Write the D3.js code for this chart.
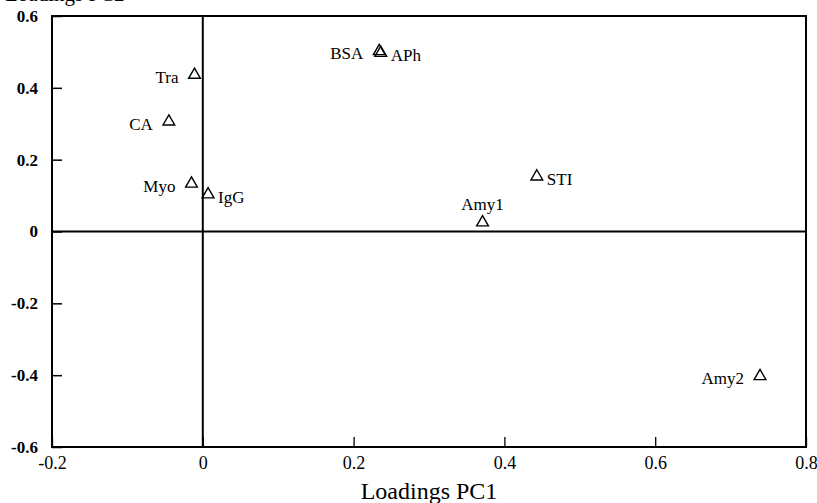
<!DOCTYPE html>
<html>
<head>
<meta charset="utf-8">
<script src="https://cdn.jsdelivr.net/npm/d3@7"></script>
<style>
  body { margin: 0; background: #fff; }
  svg { display: block; font-family: "Liberation Serif", "Times New Roman", serif; }
</style>
</head>
<body>
<div id="chart"></div>
<script>
// loadings
var names = ["Tra", "CA", "Myo", "IgG", "BSA", "APh", "STI", "Amy1", "Amy2"]
var pc1 = [-0.011, -0.045, -0.015, 0.007, 0.234, 0.236, 0.443, 0.371, 0.739]
var pc2 = [0.436, 0.306, 0.133, 0.103, 0.502, 0.497, 0.153, 0.025, -0.403]
var side = ["left", "left", "left", "right", "left", "right", "right", "above", "left"]

var xTicks = [-0.2, 0, 0.2, 0.4, 0.6, 0.8]
var yTicks = [-0.6, -0.4, -0.2, 0, 0.2, 0.4, 0.6]

var margin = {top: 16, right: 11, bottom: 56, left: 52},
    width = 817 - margin.left - margin.right,
    height = 503 - margin.top - margin.bottom

var svg = d3.select("#chart").append("svg")
    .attr("width", 817)
    .attr("height", 503)

var g = svg.append("g")
    .attr("transform", `translate(${margin.left}, ${margin.top})`)

var x = d3.scaleLinear().domain([-0.2, 0.8]).range([0, width])
var y = d3.scaleLinear().domain([-0.6, 0.6]).range([height, 0])

// plain hyphen for negatives, like the original
function fmt(d) { return d === 0 ? "0" : d3.format(".1f")(d).replace("\u2212", "-") }

// x axis, ticks pointing inward
var xAxis = g.append("g")
    .attr("transform", `translate(0, ${height})`)
    .call(d3.axisBottom(x).tickValues(xTicks).tickFormat(fmt).tickSizeInner(-10).tickSizeOuter(0).tickPadding(9))
xAxis.select(".domain").remove()
xAxis.selectAll("line").attr("stroke-width", 1.3)
xAxis.selectAll("text").attr("font-size", 18).attr("font-family", "Liberation Serif").attr("fill", "#000")

var yAxis = g.append("g")
    .call(d3.axisLeft(y).tickValues(yTicks).tickFormat(fmt).tickSizeInner(-10).tickSizeOuter(0).tickPadding(14))
yAxis.select(".domain").remove()
yAxis.selectAll("line").attr("stroke-width", 1.5)
yAxis.selectAll("text").attr("font-size", 17).attr("font-weight", "bold")
    .attr("font-family", "Liberation Serif").attr("fill", "#000")

// frame
g.append("rect")
    .attr("width", width).attr("height", height)
    .attr("fill", "none").attr("stroke", "#000").attr("stroke-width", 2)

// zero lines
g.append("line")
    .attr("x1", x(0)).attr("x2", x(0)).attr("y1", 0).attr("y2", height)
    .attr("stroke", "#000").attr("stroke-width", 2)
g.append("line")
    .attr("x1", 0).attr("x2", width).attr("y1", y(0)).attr("y2", y(0))
    .attr("stroke", "#000").attr("stroke-width", 2)

var tri = d3.symbol().type(d3.symbolTriangle).size(60)

var pts = names.map((n, i) => ({name: n, x: pc1[i], y: pc2[i], side: side[i]}))

g.selectAll(".pt")
    .data(pts)
    .enter()
    .append("path")
    .attr("class", "pt")
    .attr("d", tri)
    .attr("transform", d => `translate(${x(d.x)}, ${y(d.y)})`)
    .attr("fill", "none")
    .attr("stroke", "#000")
    .attr("stroke-width", 1.4)

g.selectAll(".lbl")
    .data(pts)
    .enter()
    .append("text")
    .attr("class", "lbl")
    .attr("x", d => x(d.x) + (d.side == "left" ? -16 : d.side == "right" ? 10 : 0))
    .attr("y", d => y(d.y) + (d.side == "above" ? -13 : 8))
    .attr("text-anchor", d => d.side == "left" ? "end" : d.side == "right" ? "start" : "middle")
    .attr("font-size", 17)
    .text(d => d.name)

// axis titles
svg.append("text")
    .attr("x", margin.left + x(0.3))
    .attr("y", 499)
    .attr("text-anchor", "middle")
    .attr("font-size", 24)
    .text("Loadings PC1")

// the y title sits right at the top edge in the original
svg.append("text")
    .attr("x", 5)
    .attr("y", 1)
    .attr("font-size", 21)
    .text("Loadings PC2")
</script>
</body>
</html>
